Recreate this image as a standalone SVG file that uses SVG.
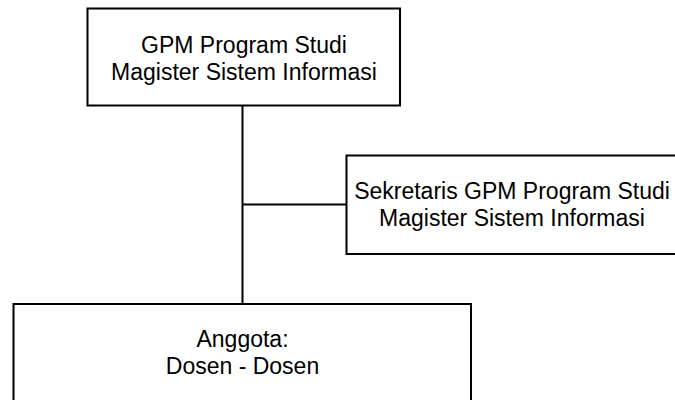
<svg xmlns="http://www.w3.org/2000/svg" width="675" height="400" viewBox="0 0 675 400">
<style>
.box{fill:#fff;stroke:#000;stroke-width:2}
.conn{stroke:#000;stroke-width:2;fill:none}
text{font-family:"Liberation Sans",Arial,sans-serif;font-size:23px;fill:#000;text-anchor:middle}
</style>
<rect width="675" height="400" fill="#fff"/>
<g id="connectors">
<line class="conn" x1="242.5" y1="106" x2="242.5" y2="304"/>
<line class="conn" x1="242.5" y1="204.5" x2="346.5" y2="204.5"/>
</g>
<g id="node-gpm">
<rect class="box" x="87.5" y="8.5" width="312.5" height="97"/>
<text x="244" y="52.5">GPM Program Studi</text>
<text x="244" y="79.5">Magister Sistem Informasi</text>
</g>
<g id="node-sekretaris">
<rect class="box" x="346.5" y="155.5" width="340" height="98.5"/>
<text x="512" y="199">Sekretaris GPM Program Studi</text>
<text x="512" y="225.5">Magister Sistem Informasi</text>
</g>
<g id="node-anggota">
<rect class="box" x="13.5" y="304" width="457.5" height="110"/>
<text x="242.5" y="347">Anggota:</text>
<text x="242.5" y="373.5">Dosen - Dosen</text>
</g>
</svg>
